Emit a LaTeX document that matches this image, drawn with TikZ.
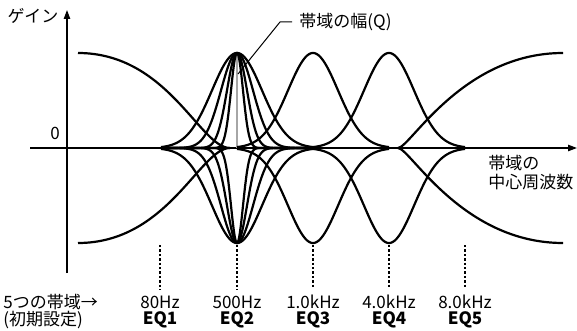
\documentclass[tikz,border=0pt]{standalone}
\usepackage{fontspec}
\setmainfont{Noto Sans CJK JP}
\usetikzlibrary{arrows.meta,positioning}

\begin{document}
\begin{tikzpicture}[
    x=0.5pt, y=-0.5pt,
    every node/.style={font=\fontsize{8.5pt}{9.5pt}\selectfont, inner sep=1pt},
    axis/.style={line width=0.65pt, -{Triangle[length=4.5pt, width=3.2pt]}},
    curve/.style={line width=1.1pt, line join=round},
    guide/.style={line width=0.6pt, dash pattern=on 1.2pt off 1pt},
    freq/.style={inner sep=3pt},
    eqname/.style={font=\fontsize{8.5pt}{9.5pt}\selectfont\bfseries}
]
\useasboundingbox (0,0) rectangle (577,331);

% axes
\coordinate (xstart) at (30,148);
\coordinate (xend) at (577,148);
\coordinate (ystart) at (67,273);
\coordinate (yend) at (67,10);
\draw[axis] (xstart) -- (xend);
\draw[axis] (ystart) -- (yend);
\node (gain) at (33,16) {ゲイン};
\node (zero) at (55,133) {0};
\node[align=left, anchor=west] (fc) at (486,173) {帯域の\\中心周波数};

% Q indicator
\coordinate (peak2) at (237,53);
\coordinate (base2) at (237,148);
\draw[gray!70, line width=0.6pt] (peak2) -- (base2);

% shelves
\draw[curve] (78,53) .. controls (168,53) and (200,148) .. (230,148);
\draw[curve] (78,243) .. controls (168,243) and (200,148) .. (230,148);
\draw[curve] (398,148) .. controls (410,148) and (462,53) .. (563,53);
\draw[curve] (398,148) .. controls (410,148) and (462,243) .. (563,243);

% peaking bands, boost and cut
\foreach \c/\s in {237/25, 237/16, 237/10, 237/6, 313/25, 389/25}
  \foreach \g in {95,-95}
    \draw[curve] plot[smooth, domain=\c-76:\c+76, samples=153]
      (\x, {148-(\g)*exp(-(\x-\c)*(\x-\c)/(2*\s*\s))});

% leader for Q
\coordinate (qtip) at (238,74);
\coordinate (qbend) at (280,22);
\node[anchor=west, inner sep=3.5pt] (qlabel) at (292,22) {帯域の幅(Q)};
\draw[line width=0.5pt] (qtip) -- (qbend) -- (qlabel.west);

% band centres
\foreach \pos/\f/\n in {160/80Hz/1, 237/500Hz/2, 313/1.0kHz/3, 389/4.0kHz/4, 465/8.0kHz/5} {
  \node[freq] (f\n) at (\pos,302) {\f};
  \node[eqname] (eq\n) at (\pos,320) {EQ\n};
  \coordinate (g\n) at (\pos,245);
  \draw[guide] (g\n) -- (f\n.north);
}
\node[anchor=west] (bands) at (1,302) {5つの帯域→};
\node[anchor=west] (init) at (1,320) {(初期設定)};
\end{tikzpicture}
\end{document}
